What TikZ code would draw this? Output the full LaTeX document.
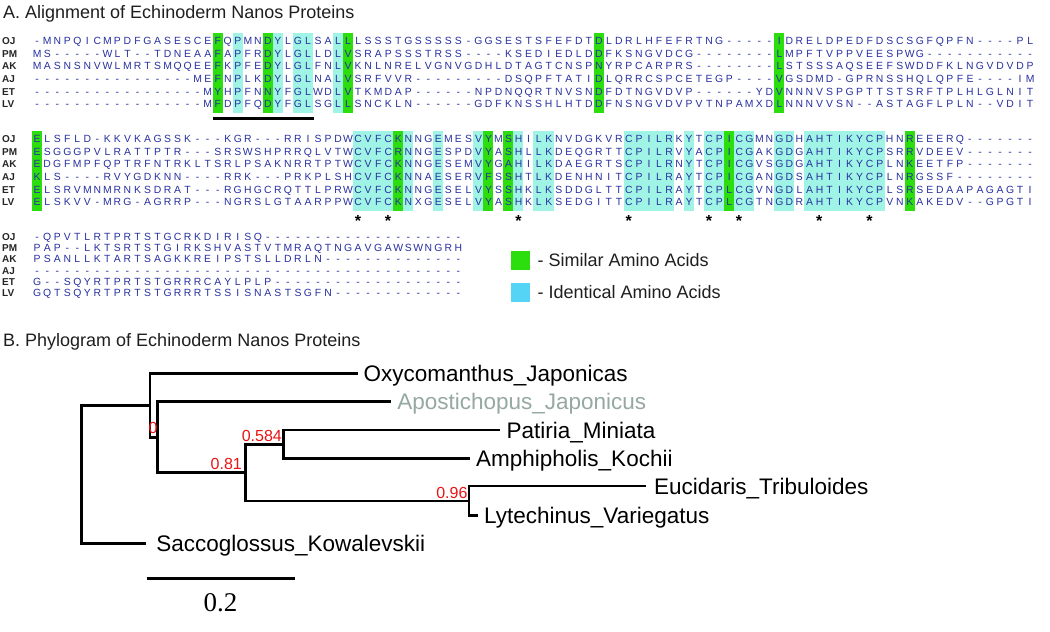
\documentclass[tikz,border=0pt]{standalone}
\usepackage{fontspec}
\setmainfont{Liberation Sans}
\newfontfamily\barfont{Liberation Serif}
\usetikzlibrary{positioning}

\definecolor{simgreen}{RGB}{45,222,15}
\definecolor{identcyan}{RGB}{160,244,230}
\definecolor{keycyan}{RGB}{85,212,245}
\definecolor{resblue}{RGB}{40,48,160}
\definecolor{apogray}{RGB}{150,168,162}
\definecolor{bsred}{RGB}{235,20,20}

% one residue per fixed column
\newlength\colw
\setlength\colw{10.03pt}
\def\seqrow#1{\seqstep#1\relax}
\def\seqstep#1{\ifx#1\relax\else\makebox[\colw][c]{#1}\expandafter\seqstep\fi}

\begin{document}
\begin{tikzpicture}[x=1pt, y=-1pt,
  seq/.style={anchor=west, inner sep=0pt, text height=7.45pt, text depth=0pt,
              text=resblue, font=\fontsize{10.4}{12}\selectfont},
  tag/.style={anchor=west, inner sep=0pt, text height=7.2pt, text depth=0pt,
              text=black!85, font=\fontsize{10}{12}\selectfont\bfseries},
  ttl/.style={anchor=west, inner sep=0pt, text height=12.9pt, text depth=0pt,
              text=black!88, font=\fontsize{18}{20}\selectfont},
  key/.style={minimum size=18.5pt, inner sep=0pt},
  keytxt/.style={inner sep=0pt, text height=12.9pt, text depth=0pt,
                 text=black!88, font=\fontsize{18}{20}\selectfont},
  leaf/.style={inner sep=0pt, text height=16.1pt, text depth=0pt,
               font=\fontsize{22.5}{26}\selectfont},
  bs/.style={anchor=south east, inner sep=0pt, text height=11.5pt, text depth=0pt,
             text=bsred, font=\fontsize{16}{18}\selectfont},
  branch/.style={line width=2.6pt, line cap=rect},
  star/.style={inner sep=0pt, font=\fontsize{16}{16}\selectfont\bfseries},
]
\path[use as bounding box, fill=white] (0,0) rectangle (1050,632);

% Titles
\node[ttl] (ttlA) at (3,12) {A. Alignment of Echinoderm Nanos Proteins};
\node[ttl] (ttlB) at (3,340) {B. Phylogram of Echinoderm Nanos Proteins};

% Block 1 shading
\foreach \a/\b in {18/18, 23/23, 31/31, 56/56, 74/74}
  \fill[simgreen] ({31.985+10.03*\a},32.5) rectangle ({31.985+10.03*(\b+1)},112.5);
\foreach \a/\b in {20/20, 24/24, 26/27, 30/30}
  \fill[identcyan] ({31.985+10.03*\a},32.5) rectangle ({31.985+10.03*(\b+1)},112.5);

% Block 2 shading
\foreach \a/\b in {0/0, 36/36, 45/45, 47/47, 69/69, 87/87}
  \fill[simgreen] ({31.985+10.03*\a},130.5) rectangle ({31.985+10.03*(\b+1)},210.5);
\foreach \a/\b in {32/35, 37/37, 40/40, 44/44, 48/48, 50/51, 59/63, 65/65,
                   67/68, 70/71, 74/75, 77/84}
  \fill[identcyan] ({31.985+10.03*\a},130.5) rectangle ({31.985+10.03*(\b+1)},210.5);

% Block 1
\node[tag] (tagoj1) at (2,41) {OJ};
\node[tag] (tagpm1) at (2,53.6) {PM};
\node[tag] (tagak1) at (2,66.2) {AK};
\node[tag] (tagaj1) at (2,78.8) {AJ};
\node[tag] (taget1) at (2,91.4) {ET};
\node[tag] (taglv1) at (2,104) {LV};
\node[seq] (oj1) at (32,41) {\seqrow{-MNPQICMPDFGASESCEFQPMNDYLGLSALLLSSSTGSSSSS-GGSESTSFEFDTDLDRLHFEFRTNG-----IDRELDPEDFDSCSGFQPFN----PL}};
\node[seq] (pm1) at (32,53.6) {\seqrow{MS-----WLT--TDNEAAFAPFRDYLGLLDLVSRAPSSSTRSS----KSEDIEDLDDFKSNGVDCG--------LMPFTVPPVEESPWG-----------}};
\node[seq] (ak1) at (32,66.2) {\seqrow{MASNSNVWLMRTSMQQEEFKPFEDYLGLFNLVKNLNRELVGNVGDHLDTAGTCNSPNYRPCARPRS--------LSTSSSAQSEEFSWDDFKLNGVDVDP}};
\node[seq] (aj1) at (32,78.8) {\seqrow{----------------MEFNPLKDYLGLNALVSRFVVR---------DSQPFTATIDLQRRCSPCETEGP----VGSDMD-GPRNSSHQLQPFE----IM}};
\node[seq] (et1) at (32,91.4) {\seqrow{-----------------MYHPFNNYFGLWDLVTKMDAP------NPDNQQRTNVSNDFDTNGVDVP------YDVNNNVSPGPTTSTSRFTPLHLGLNIT}};
\node[seq] (lv1) at (32,104) {\seqrow{-----------------MFDPFQDYFGLSGLLSNCKLN------GDFKNSSHLHTDDFNSNGVDVPVTNPAMXDLNNNVVSN--ASTAGFLPLN--VDIT}};
\coordinate (ul1) at (212.7,118.8);
\coordinate (ul2) at (313.5,118.8);
\draw[line width=3.2pt] (ul1) -- (ul2);

% Block 2
\node[tag] (tagoj2) at (2,139) {OJ};
\node[tag] (tagpm2) at (2,151.6) {PM};
\node[tag] (tagak2) at (2,164.2) {AK};
\node[tag] (tagaj2) at (2,176.8) {AJ};
\node[tag] (taget2) at (2,189.4) {ET};
\node[tag] (taglv2) at (2,202) {LV};
\node[seq] (oj2) at (32,139) {\seqrow{ELSFLD-KKVKAGSSK---KGR---RRISPDWCVFCKNNGEMESVYMSHILKNVDGKVRCPILRKYTCPICGMNGDHAHTIKYCPHNREEERQ-------}};
\node[seq] (pm2) at (32,151.6) {\seqrow{ESGGGPVLRATTPTR---SRSWSHPRRQLVTWCVFCRNNGESPDVYASHLLKDEQGRTTCPILRVYACPICGAKGDGAHTIKYCPSRRVDEEV-------}};
\node[seq] (ak2) at (32,164.2) {\seqrow{EDGFMPFQPTRFNTRKLTSRLPSAKNRRTPTWCVFCKNNGESEMVYGAHILKDAEGRTSCPILRNYTCPICGVSGDGAHTIKYCPLNKEETFP-------}};
\node[seq] (aj2) at (32,176.8) {\seqrow{KLS----RVYGDKNN----RRK---PRKPLSHCVFCKNNAESERVFSSHTLKDENHNITCPILRAYTCPICGANGDSAHTIKYCPLNRGSSF--------}};
\node[seq] (et2) at (32,189.4) {\seqrow{ELSRVMNMRNKSDRAT---RGHGCRQTTLPRWCVFCKNNGESELVYSSHKLKSDDGLTTCPILRAYTCPLCGVNGDLAHTIKYCPLSRSEDAAPAGAGTI}};
\node[seq] (lv2) at (32,202) {\seqrow{ELSKVV-MRG-AGRRP---NGRSLGTAARPPWCVFCKNXGESELVYASHKLKSEDGITTCPILRAYTCPLCGTNGDRAHTIKYCPVNKAKEDV--GPGTI}};
\foreach \c in {32, 35, 48, 59, 67, 70, 78, 83}
  \node[star] (st\c) at ({37+10.03*\c},221) {*};

% Block 3
\node[tag] (tagoj3) at (2,236.5) {OJ};
\node[tag] (tagpm3) at (2,247.8) {PM};
\node[tag] (tagak3) at (2,259.1) {AK};
\node[tag] (tagaj3) at (2,270.4) {AJ};
\node[tag] (taget3) at (2,281.7) {ET};
\node[tag] (taglv3) at (2,293) {LV};
\node[seq] (oj3) at (32,236.5) {\seqrow{-QPVTLRTPRTSTGCRKDIRISQ--------------------}};
\node[seq] (pm3) at (32,247.8) {\seqrow{PAP--LKTSRTSTGIRKSHVASTVTMRAQTNGAVGAWSWNGRH}};
\node[seq] (ak3) at (32,259.1) {\seqrow{PSANLLKTARTSAGKKREIPSTSLLDRLN--------------}};
\node[seq] (aj3) at (32,270.4) {\seqrow{-------------------------------------------}};
\node[seq] (et3) at (32,281.7) {\seqrow{G--SQYRTPRTSTGRRRCAYLPLP-------------------}};
\node[seq] (lv3) at (32,293) {\seqrow{GQTSQYRTPRTSTGRRRTSSISNASTSGFN-------------}};

% Key
\node[key, fill=simgreen] (keysim) at (520.5,260.5) {};
\node[keytxt, right=7.5pt of keysim] (keysimt) {- Similar Amino Acids};
\node[key, fill=keycyan] (keyid) at (520.5,292.5) {};
\node[keytxt, right=7.5pt of keyid] (keyidt) {- Identical Amino Acids};

% Phylogram
\coordinate (root) at (81.7,474.3);
\coordinate (nA) at (149.8,405.4);
\coordinate (nC) at (157.6,437.5);
\coordinate (nD) at (245.6,472.6);
\coordinate (nE) at (283.3,444.2);
\coordinate (nF) at (469,500.9);
\coordinate (oxy) at (357,373.3);
\coordinate (apo) at (389.6,401.7);
\coordinate (pat) at (498.8,430);
\coordinate (amp) at (468.5,458.3);
\coordinate (euc) at (645,486);
\coordinate (lyt) at (477,515.7);
\coordinate (sac) at (144.6,543.3);

\draw[branch] (oxy) -| (nA) |- (nC);
\draw[branch] (apo) -| (nC) |- (nD);
\draw[branch] (pat) -| (nE) |- (amp);
\draw[branch] (nE) -| (nD) |- (nF);
\draw[branch] (euc) -| (nF) |- (lyt);
\draw[branch] (nA) -| (root) |- (sac);

\node[leaf, right=6.5pt of oxy] (oxyl) {Oxycomanthus\_Japonicas};
\node[leaf, text=apogray, right=7.5pt of apo] (apol) {Apostichopus\_Japonicus};
\node[leaf, right=7.5pt of pat] (patl) {Patiria\_Miniata};
\node[leaf, right=7.5pt of amp] (ampl) {Amphipholis\_Kochii};
\node[leaf, right=9pt of euc] (eucl) {Eucidaris\_Tribuloides};
\node[leaf, right=7pt of lyt] (lytl) {Lytechinus\_Variegatus};
\node[leaf, right=11.5pt of sac] (sacl) {Saccoglossus\_Kowalevskii};

\node[bs] (bsC) at ([yshift=4.2pt]nC) {0};
\node[bs] (bsE) at ([xshift=-1.3pt, yshift=2.5pt]nE) {0.584};
\node[bs] (bsD) at ([xshift=-3.6pt, yshift=2.6pt]nD) {0.81};
\node[bs] (bsF) at ([xshift=-1.4pt, yshift=2.6pt]nF) {0.96};

% Scale bar
\coordinate (sb1) at (146.7,578.3);
\coordinate (sb2) at (295,578.3);
\draw[branch, line cap=butt] (sb1) -- (sb2);
\node[inner sep=0pt, font=\barfont\fontsize{27}{30}\selectfont] (sbl) at (220.5,603) {0.2};
\end{tikzpicture}
\end{document}
